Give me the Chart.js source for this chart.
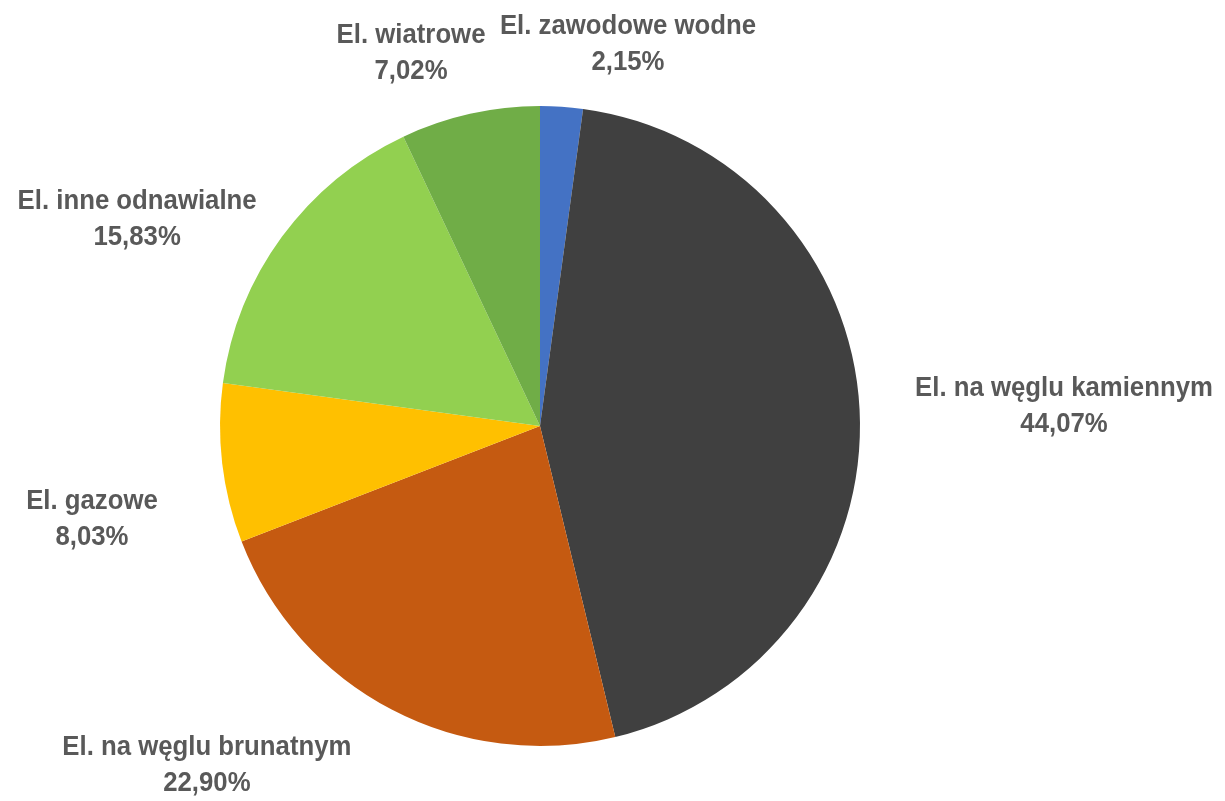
<!DOCTYPE html>
<html>
<head>
<meta charset="utf-8">
<script src="https://cdn.jsdelivr.net/npm/chart.js@4.4.1/dist/chart.umd.min.js"></script>
<style>
  html, body { margin: 0; padding: 0; background: #fff; }
  #wrap { width: 1225px; height: 801px; }
</style>
</head>
<body>
<div id="wrap"><canvas id="pieChart" width="1225" height="801"></canvas></div>
<script>
// data (clockwise from 12 o'clock)
const categories = [
    'El. zawodowe wodne',
    'El. na węglu kamiennym',
    'El. na węglu brunatnym',
    'El. gazowe',
    'El. inne odnawialne',
    'El. wiatrowe'
];
const shares = [2.15, 44.07, 22.90, 8.03, 15.83, 7.02];
const sliceColors = ['#4472C4', '#404040', '#C55A11', '#FFC000', '#92D050', '#70AD47'];

// label placement relative to pie centre, in units of the radius
const labelOffsets = [
    [0.275, -1.194],
    [1.6375, -0.061],
    [-1.041, 1.059],
    [-1.4, 0.291],
    [-1.259, -0.647],
    [-0.403, -1.164]
];

const fmt = v => v.toFixed(2).replace('.', ',') + '%';

// narrow-looking label text: slightly squeezed horizontally
const outsideLabels = {
    id: 'outsideLabels',
    afterDraw(chart) {
        const ctx = chart.ctx;
        const meta = chart.getDatasetMeta(0);
        const squeeze = 0.92;
        meta.data.forEach((arc, i) => {
            const r = arc.outerRadius;
            const cx = arc.x + labelOffsets[i][0] * r;
            const cy = arc.y + labelOffsets[i][1] * r;
            ctx.save();
            ctx.translate(cx, cy);
            ctx.scale(squeeze, 1);
            ctx.fillStyle = '#595959';
            ctx.font = 'bold 28px "Liberation Sans", Arial, sans-serif';
            ctx.textAlign = 'center';
            ctx.textBaseline = 'middle';
            ctx.fillText(categories[i], 0, -18);
            ctx.fillText(fmt(shares[i]), 0, 18);
            ctx.restore();
        });
    }
};

new Chart(document.getElementById('pieChart'), {
    type: 'pie',
    data: {
        labels: categories,
        datasets: [{
            data: shares,
            backgroundColor: sliceColors,
            borderWidth: 0
        }]
    },
    options: {
        responsive: false,
        animation: false,
        layout: {
            padding: { left: 220, right: 365, top: 106, bottom: 55 }
        },
        plugins: {
            legend: { display: false },
            tooltip: { enabled: false }
        }
    },
    plugins: [outsideLabels]
});
</script>
</body>
</html>
